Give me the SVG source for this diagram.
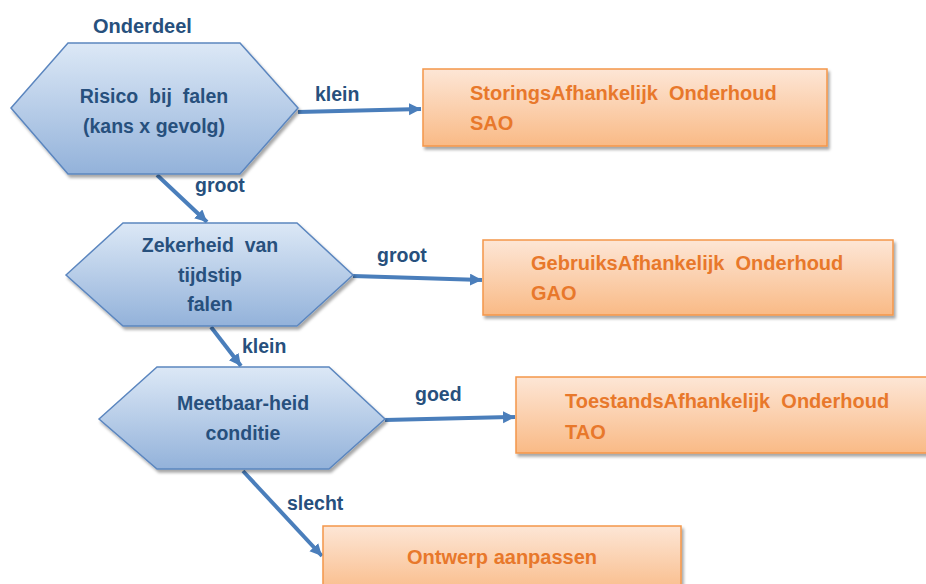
<svg xmlns="http://www.w3.org/2000/svg" width="926" height="584" viewBox="0 0 926 584">
<style>
text{font-family:"Liberation Sans",Arial,sans-serif;font-weight:bold;white-space:pre}
.b{fill:#27507D;font-size:19.5px}
.o{fill:#E8782B;font-size:20px}
.hex{fill:url(#gb);stroke:#5B86BF;stroke-width:1.5;filter:url(#sh)}
.box{fill:url(#go);stroke:#F4964A;stroke-width:1.5;filter:url(#sh)}
.c{fill:none;stroke:#4A7EBB;stroke-width:4;marker-end:url(#ah)}
</style>
<defs>
<linearGradient id="gb" x1="0" y1="0" x2="0" y2="1"><stop offset="0" stop-color="#DCE8F6"/><stop offset="1" stop-color="#93B2DA"/></linearGradient>
<linearGradient id="go" x1="0" y1="0" x2="0" y2="1"><stop offset="0" stop-color="#FDE6D6"/><stop offset="1" stop-color="#F9BA86"/></linearGradient>
<filter id="sh" x="-10%" y="-10%" width="125%" height="130%"><feDropShadow dx="2" dy="3" stdDeviation="1.5" flood-color="#000" flood-opacity="0.35"/></filter>
<marker id="ah" markerUnits="userSpaceOnUse" markerWidth="14" markerHeight="14" refX="12" refY="6" orient="auto"><path d="M0,0 L12,6 L0,12 Z" fill="#4A7EBB"/></marker>
</defs>
<g id="connectors">
<path class="c" d="M298,112 L421,109"/>
<path class="c" d="M157,175 L207,222"/>
<path class="c" d="M353,276 L482,280"/>
<path class="c" d="M211,327 L241,366"/>
<path class="c" d="M385,420 L515,417"/>
<path class="c" d="M243,471 L322,556"/>
<text class="b" x="315" y="101">klein</text>
<text class="b" x="195" y="192">groot</text>
<text class="b" x="377" y="262">groot</text>
<text class="b" x="242" y="353">klein</text>
<text class="b" x="415" y="401">goed</text>
<text class="b" x="287" y="510">slecht</text>
</g>
<g id="label-onderdeel"><text class="b" x="93" y="33" style="font-size:20px">Onderdeel</text></g>
<g id="hex1">
<polygon class="hex" points="11,108 68,43 240,43 298,108 240,174 68,174"/>
<text class="b" x="154" y="103" text-anchor="middle">Risico  bij  falen</text>
<text class="b" x="154" y="133" text-anchor="middle">(kans x gevolg)</text>
</g>
<g id="hex2">
<polygon class="hex" points="66,275 123,223 297,223 353,275 297,326 123,326"/>
<text class="b" x="210" y="252" text-anchor="middle">Zekerheid  van</text>
<text class="b" x="210" y="282" text-anchor="middle">tijdstip</text>
<text class="b" x="210" y="311" text-anchor="middle">falen</text>
</g>
<g id="hex3">
<polygon class="hex" points="99,419 157,367 329,367 385,419 329,469 157,469"/>
<text class="b" x="243" y="410" text-anchor="middle">Meetbaar-heid</text>
<text class="b" x="243" y="440" text-anchor="middle">conditie</text>
</g>
<g id="sao">
<rect class="box" x="423" y="69" width="404" height="77"/>
<text class="o" x="470" y="100">StoringsAfhankelijk  Onderhoud</text>
<text class="o" x="470" y="130">SAO</text>
</g>
<g id="gao">
<rect class="box" x="483" y="240" width="410" height="75"/>
<text class="o" x="531" y="270">GebruiksAfhankelijk  Onderhoud</text>
<text class="o" x="531" y="300">GAO</text>
</g>
<g id="tao">
<rect class="box" x="516" y="377" width="420" height="76"/>
<text class="o" x="565" y="408">ToestandsAfhankelijk  Onderhoud</text>
<text class="o" x="565" y="439">TAO</text>
</g>
<g id="ontwerp">
<rect class="box" x="323" y="526" width="358" height="70"/>
<text class="o" x="502" y="564" text-anchor="middle">Ontwerp aanpassen</text>
</g>
</svg>
